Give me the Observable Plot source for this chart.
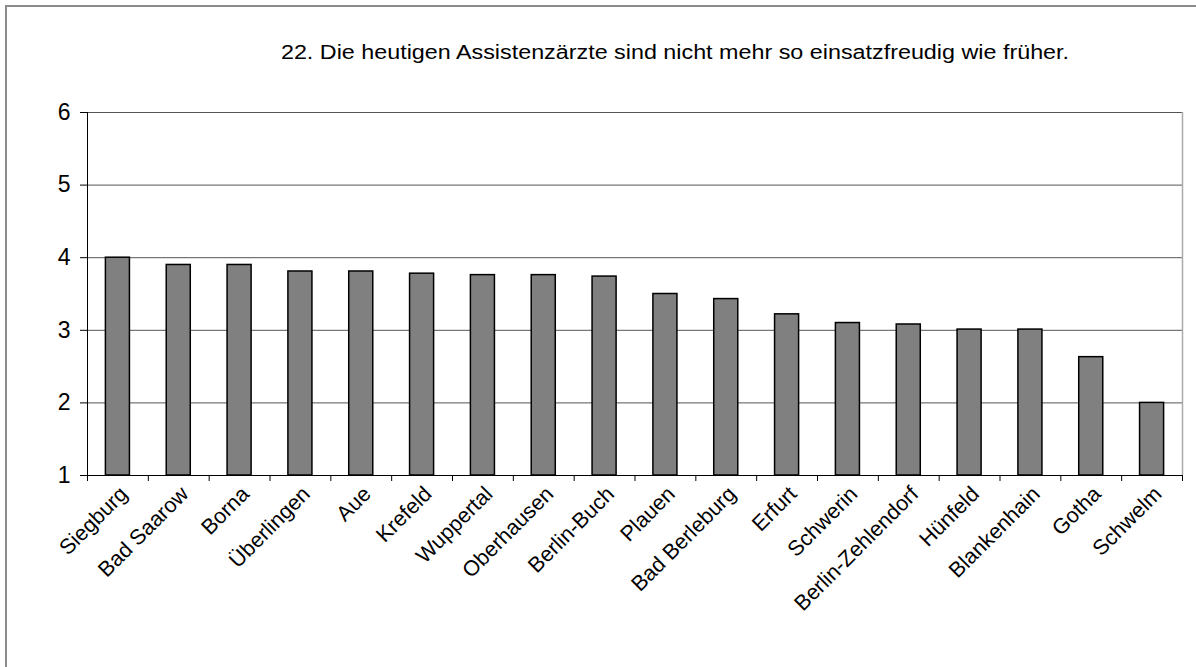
<!DOCTYPE html>
<html><head><meta charset="utf-8">
<script src="https://cdn.jsdelivr.net/npm/d3@7"></script>
<script src="https://cdn.jsdelivr.net/npm/@observablehq/plot@0.6"></script>
<style>
body{margin:0;background:#fff;}
#wrap{position:relative;width:1196px;height:667px;overflow:hidden;font-family:"Liberation Sans",Arial,sans-serif;}
#frame{position:absolute;left:5px;top:5px;width:1200px;height:700px;border-left:2px solid #8c8c8c;border-top:2px solid #8c8c8c;}
#title{position:absolute;top:40px;left:0;width:1350px;text-align:center;font-size:20px;line-height:24px;color:#000;transform:scaleX(1.166);transform-origin:675px 0;}
#chart{position:absolute;left:0;top:0;}
</style></head>
<body>
<div id="wrap">
  <div id="frame"></div>
  <div id="chart"></div>
  <div id="title">22. Die heutigen Assistenzärzte sind nicht mehr so einsatzfreudig wie früher.</div>
</div>
<script>
const cities = ["Siegburg","Bad Saarow","Borna","Überlingen","Aue","Krefeld","Wuppertal","Oberhausen","Berlin-Buch","Plauen","Bad Berleburg","Erfurt","Schwerin","Berlin-Zehlendorf","Hünfeld","Blankenhain","Gotha","Schwelm"];
const values = [4.0,3.9,3.9,3.81,3.81,3.78,3.76,3.76,3.74,3.5,3.43,3.22,3.1,3.08,3.01,3.01,2.63,2.0];
const yTicks = [1,2,3,4,5,6];
const gridValues = [2,3,4,5,6];

const data = cities.map((c,i)=>({city:c, value:values[i], idx:i}));

const chart = Plot.plot({
  width:1196, height:667,
  marginLeft:87, marginRight:14, marginTop:112, marginBottom:192,
  x:{domain:[0, cities.length]},
  y:{domain:[1,6]},
  style:{fontFamily:"'Liberation Sans', Arial, sans-serif", fontSize:"20px", color:"#000", background:"transparent", overflow:"visible"},
  marks:[
    Plot.ruleY(gridValues, {stroke:"#555", strokeWidth:1}),
    Plot.ruleX([cities.length], {stroke:"#aaa", strokeWidth:1.5}),
    Plot.rectY(data, {x1:d=>d.idx, x2:d=>d.idx+1, y1:1, y2:"value", insetLeft:18.4, insetRight:18.4, fill:"#808080", stroke:"#000", strokeWidth:1.5}),
    Plot.ruleY([1], {stroke:"#000", strokeWidth:1}),
    Plot.ruleX([0], {stroke:"#000", strokeWidth:1}),
    Plot.axisY({ticks:yTicks, tickSize:7, tickPadding:10, fontSize:23, label:null, tickFormat:d=>String(d)}),
    Plot.axisX({ticks:d3.range(cities.length+1), tickSize:6, tickFormat:()=>"", label:null}),
    Plot.axisX({ticks:cities.map((d,i)=>i+0.5), tickFormat:t=>cities[Math.floor(t)], tickSize:0, tickPadding:12, tickRotate:-45, fontSize:21.5, dx:6, dy:3, label:null})
  ]
});
document.getElementById("chart").appendChild(chart);
</script>
</body></html>
